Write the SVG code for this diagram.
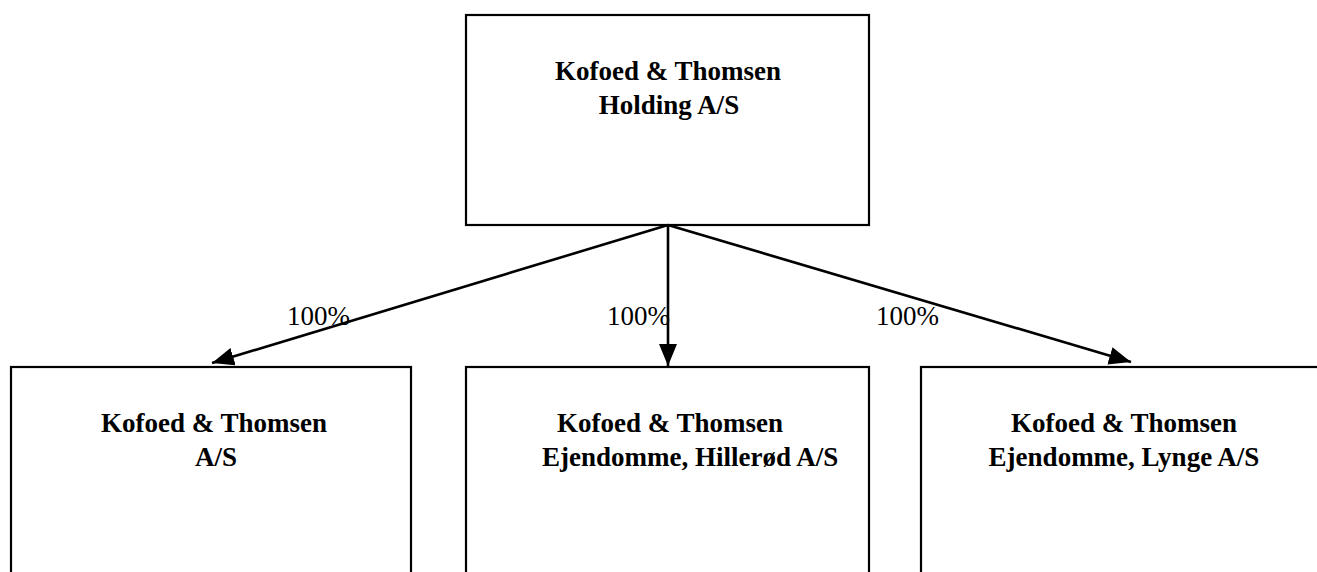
<svg xmlns="http://www.w3.org/2000/svg" width="1317" height="572" viewBox="0 0 1317 572">
<style>
.box{fill:#fff;stroke:#000;stroke-width:2.2}
.t{font-family:"Liberation Serif","Times New Roman",serif;font-size:27px;font-weight:bold;fill:#000}
.lbl{font-family:"Liberation Serif","Times New Roman",serif;font-size:27px;fill:#000}
.c{stroke:#000;stroke-width:2.6;fill:none}
</style>
<defs>
<marker id="ah" markerUnits="userSpaceOnUse" markerWidth="24" markerHeight="20" refX="22" refY="9" orient="auto">
<path d="M0,0 L22,9 L0,18 Z" fill="#000"/>
</marker>
</defs>
<rect width="1317" height="572" fill="#fff"/>
<g id="holding">
<rect class="box" x="466" y="15" width="403" height="210"/>
<text class="t" x="668" y="80" text-anchor="middle">Kofoed &amp; Thomsen</text>
<text class="t" x="669" y="114" text-anchor="middle">Holding A/S</text>
</g>
<g id="ktas">
<rect class="box" x="11" y="367" width="400" height="220"/>
<text class="t" x="214" y="432" text-anchor="middle">Kofoed &amp; Thomsen</text>
<text class="t" x="216" y="466" text-anchor="middle">A/S</text>
</g>
<g id="hillerod">
<rect class="box" x="466" y="367" width="403" height="220"/>
<text class="t" x="557" y="432">Kofoed &amp; Thomsen</text>
<text class="t" x="542" y="466">Ejendomme, Hillerød A/S</text>
</g>
<g id="lynge">
<rect class="box" x="921" y="367" width="410" height="220"/>
<text class="t" x="1124" y="432" text-anchor="middle">Kofoed &amp; Thomsen</text>
<text class="t" x="1124" y="466" text-anchor="middle">Ejendomme, Lynge A/S</text>
</g>
<g id="connectors">
<line class="c" x1="668" y1="225" x2="212" y2="363" marker-end="url(#ah)"/>
<line class="c" x1="668" y1="225" x2="668" y2="366" marker-end="url(#ah)"/>
<line class="c" x1="668" y1="225" x2="1131" y2="362" marker-end="url(#ah)"/>
<text class="lbl" x="287" y="325">100%</text>
<text class="lbl" x="607" y="325">100%</text>
<text class="lbl" x="876" y="325">100%</text>
</g>
</svg>
